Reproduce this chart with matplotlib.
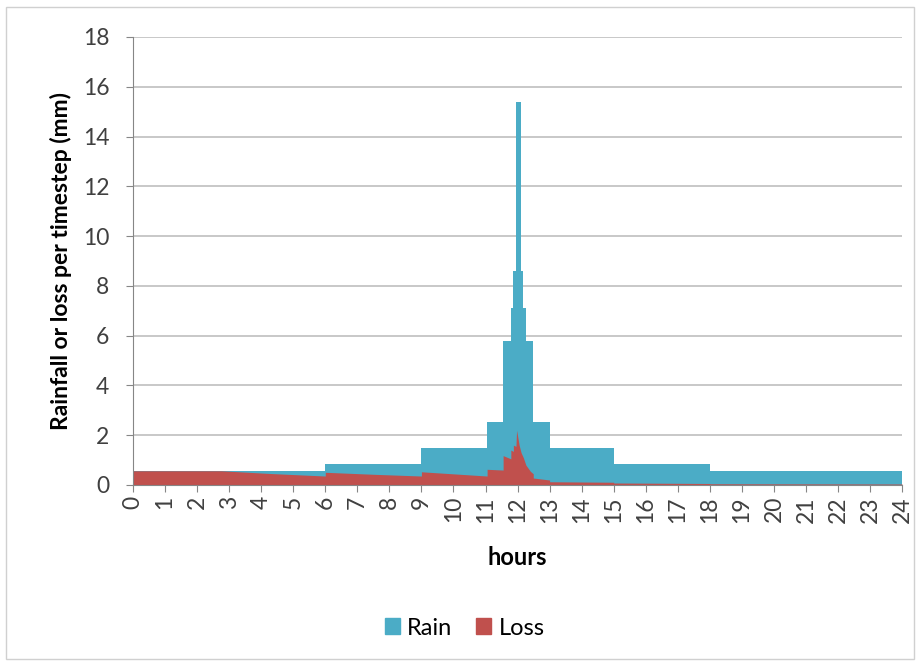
import matplotlib
matplotlib.use('Agg')
import matplotlib.pyplot as plt
from matplotlib.patches import Rectangle, Patch

# Rain: stepped design storm (hours edges, mm per timestep)
rain_edges = [0, 6, 9, 11.05, 11.55, 11.79, 11.87, 11.95, 12.11, 12.18, 12.26, 12.49, 13.0, 15.0, 18.0, 24]
rain_mm = [0.57, 0.84, 1.48, 2.55, 5.8, 7.1, 8.6, 15.4, 8.6, 7.1, 5.8, 2.55, 1.48, 0.84, 0.57]

# Loss (hours, mm per timestep)
loss_hours = [0, 2.75, 4.3, 6.0, 6.0, 7.5, 9.0, 9.0, 11.05, 11.05, 11.55, 11.55, 11.79, 11.79,
              11.87, 11.87, 11.95, 11.97, 12.05, 12.11, 12.18, 12.26, 12.4, 12.49, 12.49,
              13.0, 13.0, 15.0, 15.0, 18.0, 18.0, 24.0]
loss_mm = [0.57, 0.57, 0.46, 0.36, 0.51, 0.43, 0.36, 0.53, 0.36, 0.63, 0.6, 1.18, 1.05, 1.4,
           1.35, 1.6, 1.55, 2.2, 1.6, 1.3, 1.1, 0.8, 0.55, 0.45, 0.28,
           0.2, 0.13, 0.11, 0.08, 0.06, 0.05, 0.04]

hour_ticks = list(range(0, 25))
y_ticks = list(range(0, 19, 2))

rain_color = '#4BACC6'
loss_color = '#C0504D'

plt.rcParams['font.family'] = ['Lato', 'DejaVu Sans']

fig = plt.figure(figsize=(9.2, 6.64), dpi=100)
ax = fig.add_axes([0.1446, 0.2696, 0.8359, 0.6747])

ax.stairs(rain_mm, rain_edges, fill=True, color=rain_color, linewidth=0, zorder=2)
ax.fill_between(loss_hours, loss_mm, color=loss_color, linewidth=0, zorder=3)

ax.set_xlim(0, 24)
ax.set_ylim(0, 18)
ax.set_xticks(hour_ticks)
ax.set_yticks(y_ticks)
ax.set_xticklabels([str(h) for h in hour_ticks], rotation=90)
ax.tick_params(axis='x', labelsize=16.5, length=5, color='#868686', pad=3)
ax.tick_params(axis='y', labelsize=16.5, length=5, color='#868686', pad=12)
for lab in ax.get_xticklabels() + ax.get_yticklabels():
    lab.set_color('#404040')

ax.grid(axis='y', color='#bfbfbf', linewidth=1.2, zorder=0)
ax.set_axisbelow(True)
for side in ['top', 'right']:
    ax.spines[side].set_visible(False)
for side in ['left', 'bottom']:
    ax.spines[side].set_color('#868686')
    ax.spines[side].set_zorder(4)

ax.set_xlabel('hours', fontsize=17, fontweight='bold', labelpad=17)
ax.set_ylabel('Rainfall or loss per timestep (mm)', fontsize=16.5, fontweight='bold', labelpad=8)

handles = [Patch(color=rain_color, label='Rain'), Patch(color=loss_color, label='Loss')]
fig.legend(handles=handles, loc='center', bbox_to_anchor=(0.505, 0.054), ncol=2, frameon=False,
           fontsize=17, handlelength=0.65, handleheight=0.65, handletextpad=0.3, columnspacing=1.0)

fig.patches.append(Rectangle((0.007, 0.008), 0.986, 0.982, transform=fig.transFigure,
                             fill=False, edgecolor='#d0d0d0', linewidth=1))

plt.savefig('out.png', dpi=100)
plt.close()
